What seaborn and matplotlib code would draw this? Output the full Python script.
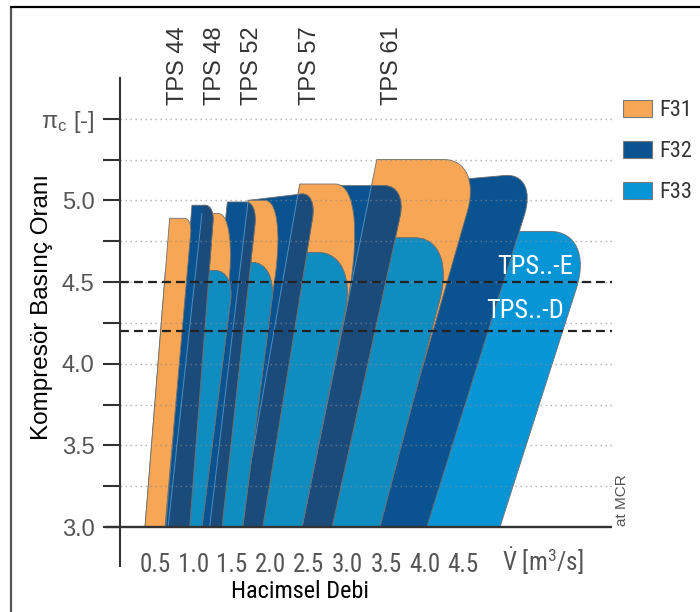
import numpy as np
import pandas as pd
import seaborn as sns
import matplotlib
matplotlib.use("Agg")
import matplotlib.pyplot as plt
from matplotlib.path import Path
from matplotlib.patches import PathPatch, Polygon, Patch
from matplotlib.lines import Line2D
from matplotlib import font_manager
from matplotlib.font_manager import FontProperties

# ---------------- data ----------------
tps_names = ["TPS 44", "TPS 48", "TPS 52", "TPS 57", "TPS 61"]
tps_label_x = [0.80, 1.28, 1.76, 2.51, 3.58]

# surge lines (left edge of the F31 areas): x at pi=3.0 and x at the F31 top
surge_bottom = [0.37, 0.67, 1.21, 1.60, 2.41]
surge_top = [0.69, 1.11, 1.71, 2.38, 3.38]

# F31 areas
f31_top = [4.89, 4.92, 5.00, 5.10, 5.25]
f31_right_bottom = [0.63, 1.08, 1.60, 2.38, 3.38]
f31_right_top = [0.98, 1.57, 2.20, 3.33, 4.75]
f31_round_x = [0.10, 0.25, 0.27, 0.49, 0.50]
f31_round_y = [0.09, 0.47, 0.47, 0.81, 0.32]

# F32 areas
f32_left_bottom = [0.64, 0.99, 1.21, 1.60, 2.41]
f32_left_top = [0.98, 1.44, 1.71, 2.38, 3.31]
f32_top_left = [4.97, 4.99, 5.00, 5.09, 5.08]
f32_top_right = [4.97, 4.99, 5.05, 5.09, 5.17]
f32_right_bottom = [0.95, 1.37, 1.90, 2.80, 4.03]
f32_right_top = [1.27, 1.83, 2.60, 3.77, 5.47]
f32_round_x = [0.12, 0.15, 0.20, 0.29, 0.43]
f32_round_y = [0.10, 0.14, 0.16, 0.19, 0.26]

# F33 areas
f33_top = [4.57, 4.62, 4.68, 4.77, 4.81]
f33_right_bottom = [1.11, 1.64, 2.41, 3.42, 4.98]
f33_right_top = [1.53, 2.08, 3.12, 4.41, 6.21]
f33_round_x = [0.25, 0.32, 0.50, 0.53, 0.58]
f33_round_y = [0.18, 0.23, 0.35, 0.38, 0.35]

series_names = ["F31", "F32", "F33"]
x_ticks = [0.5, 1.0, 1.5, 2.0, 2.5, 3.0, 3.5, 4.0, 4.5]
y_major = [3.0, 3.5, 4.0, 4.5, 5.0, 5.5]
y_major_labels = ["3.0", "3.5", "4.0", "4.5", "5.0", "π$_{\\mathregular{c}}$ [-]"]
y_minor = [3.25, 3.75, 4.25, 4.75, 5.25]
grid_levels = [3.25, 3.5, 3.75, 4.0, 4.25, 4.5, 4.75, 5.0, 5.25, 5.5]
limit_levels = [4.5, 4.2]
limit_names = ["TPS..-E", "TPS..-D"]

# ---------------- style ----------------
C_F31 = "#f7a655"
C_F32 = "#0b5290"
C_F32_DARK = "#1b4b7a"
C_F33 = "#0895d6"
C_F33_DARK = "#108dc0"
EDGE = "#6f6f6f"

sns.set_theme(style="white")
names = {f.name for f in font_manager.fontManager.ttflist}
base = "Liberation Sans" if "Liberation Sans" in names else "DejaVu Sans"
plt.rcParams["font.family"] = [base, "DejaVu Sans"]
plt.rcParams["mathtext.fontset"] = "custom"
plt.rcParams["mathtext.rm"] = base
plt.rcParams["mathtext.it"] = base + ":italic"

# look for a condensed / narrow sans face
narrow_file = None
prefs = ["Liberation Sans Narrow", "Roboto Condensed", "Open Sans Condensed",
         "Noto Sans Condensed", "DejaVu Sans"]
cands = []
for f in font_manager.fontManager.ttflist:
    is_narrow = ("Narrow" in f.name or "Condensed" in f.name
                 or str(f.stretch) in ("condensed", "semi-condensed", "575", "500"))
    if not is_narrow:
        continue
    if f.style != "normal" or f.weight not in (400, "normal", "regular"):
        continue
    rank = prefs.index(f.name) if f.name in prefs else len(prefs)
    cands.append((rank, f.fname))
if cands:
    cands.sort()
    narrow_file = cands[0][1]


def nprop(size_narrow, size_regular):
    if narrow_file:
        return FontProperties(fname=narrow_file, size=size_narrow)
    return FontProperties(family=base, size=size_regular)


fig = plt.figure(figsize=(7, 6.12), dpi=100)
ax = fig.add_axes([120 / 700, 85 / 612, 492 / 700, 449 / 612])
ax.set_xlim(0.0455, 6.435)
ax.set_ylim(3.0, 5.749)
ax.set_facecolor("white")

Y0 = 3.0


def line_x(xb, xt, ytop, y):
    return xb + (xt - xb) * (y - Y0) / (ytop - Y0)


def area_path(xl0, xl1, yl, yr, xr1, xr0, rx, ry, k=0.58):
    t = (xr1 - rx - xl1) / (xr1 - xl1)
    p1 = (xr1 - rx, yl + (yr - yl) * t)
    c = (xr1, yr)
    frac = ry / (yr - Y0)
    p2 = (xr1 + (xr0 - xr1) * frac, yr - ry)
    c1 = (p1[0] + k * (c[0] - p1[0]), p1[1] + k * (c[1] - p1[1]))
    c2 = (p2[0] + k * (c[0] - p2[0]), p2[1] + k * (c[1] - p2[1]))
    verts = [(xl0, Y0), (xl1, yl), p1, c1, c2, p2, (xr0, Y0), (xl0, Y0)]
    codes = [Path.MOVETO, Path.LINETO, Path.LINETO, Path.CURVE4, Path.CURVE4,
             Path.CURVE4, Path.LINETO, Path.CLOSEPOLY]
    return Path(verts, codes)


def halfplane_right(i):
    xa = line_x(surge_bottom[i], surge_top[i], f31_top[i], 2.0)
    xb = line_x(surge_bottom[i], surge_top[i], f31_top[i], 7.0)
    return Polygon([(xa, 2.0), (xb, 7.0), (30, 7.0), (30, 2.0)], closed=True,
                   transform=ax.transData)


z = 2
n = len(tps_names)
for i in reversed(range(n)):
    # F33
    sx33 = line_x(surge_bottom[i], surge_top[i], f31_top[i], f33_top[i])
    p33 = area_path(surge_bottom[i], sx33, f33_top[i], f33_top[i], f33_right_top[i],
                    f33_right_bottom[i], f33_round_x[i], f33_round_y[i])
    ax.add_patch(PathPatch(p33, facecolor=C_F33, edgecolor=EDGE, lw=0.6, zorder=z))
    z += 1
    if i < n - 1:
        dark = PathPatch(p33, facecolor=C_F33_DARK, edgecolor=EDGE, lw=0.6, zorder=z)
        ax.add_patch(dark)
        dark.set_clip_path(halfplane_right(i + 1))
        z += 1
    # F32
    p32 = area_path(f32_left_bottom[i], f32_left_top[i], f32_top_left[i], f32_top_right[i],
                    f32_right_top[i], f32_right_bottom[i], f32_round_x[i], f32_round_y[i])
    patch32 = PathPatch(p32, facecolor=C_F32, edgecolor=EDGE, lw=0.6, zorder=z)
    ax.add_patch(patch32)
    z += 1
    if i < n - 1:
        dark = PathPatch(p32, facecolor=C_F32_DARK, edgecolor=EDGE, lw=0.6, zorder=z)
        ax.add_patch(dark)
        dark.set_clip_path(halfplane_right(i + 1))
        z += 1
        ys = np.array([Y0, f31_top[i + 1]])
        xs = line_x(surge_bottom[i + 1], surge_top[i + 1], f31_top[i + 1], ys)
        ln, = ax.plot(xs, ys, color="#5b9fd0", lw=0.7, alpha=0.8, zorder=z)
        ln.set_clip_path(patch32)
        z += 1
    # F31
    p31 = area_path(surge_bottom[i], surge_top[i], f31_top[i], f31_top[i], f31_right_top[i],
                    f31_right_bottom[i], f31_round_x[i], f31_round_y[i])
    ax.add_patch(PathPatch(p31, facecolor=C_F31, edgecolor=EDGE, lw=0.6, zorder=z))
    z += 1

# grid (dotted) and limit lines
ax.hlines(grid_levels, 0.0455, 6.435, colors="#8a8a8a", linestyles=(0, (1, 2.6)),
          lw=1.0, alpha=0.7, zorder=z)
z += 1
ax.hlines(limit_levels, 0.0455, 6.435, colors="#222222", linestyles=(0, (4.0, 2.3)),
          lw=1.6, zorder=z)
z += 1

# white labels of the limit lines
ax.text(5.44, 4.59, limit_names[0], color="white", fontproperties=nprop(19, 16.5),
        ha="center", va="center", zorder=z)
ax.text(5.31, 4.32, limit_names[1], color="white", fontproperties=nprop(19, 16.5),
        ha="center", va="center", zorder=z)

# axes lines
for s in ["top", "right", "bottom"]:
    ax.spines[s].set_visible(False)
ax.spines["left"].set_color("#333333")
ax.spines["left"].set_linewidth(1.5)
ax.spines["left"].set_zorder(z + 2)
ax.plot([-0.149, 6.435], [Y0, Y0], color="#333333", lw=1.7, clip_on=False, zorder=z + 3,
        solid_capstyle="butt")
ax.plot([0.0455, 0.0455], [Y0, 2.755], color="#333333", lw=1.5, clip_on=False, zorder=z + 3,
        solid_capstyle="butt")

# ticks
ax.set_yticks(y_major)
ax.set_yticklabels(y_major_labels)
ax.set_yticks(y_minor, minor=True)
ax.tick_params(axis="y", which="both", length=12.2, width=1.5, color="#333333",
               direction="out", pad=6, labelsize=17, labelcolor="#555555", left=True)
ax.set_xticks(x_ticks)
ax.set_xticklabels([f"{v:.1f}" for v in x_ticks])
ax.tick_params(axis="x", length=0, pad=19, labelcolor="#555555")
for lab in ax.get_xticklabels():
    lab.set_fontproperties(nprop(18, 14.5))
ax.grid(False)

ax.annotate("$\\dot{\\mathregular{V}}$ [m$^{\\mathregular{3}}$/s]", xy=(5.54, Y0),
            xytext=(0, -24.5), textcoords="offset points", ha="center", va="center",
            fontproperties=nprop(18, 15), color="#555555", annotation_clip=False)
ax.text(6.565, Y0 + 0.005, "at MCR", rotation=90, ha="center", va="bottom",
        fontsize=11, color="#555555")

# TPS size labels
for name, xpos in zip(tps_names, tps_label_x):
    ax.text(xpos, 5.584, name, rotation=90, ha="center", va="bottom", fontsize=17,
            color="#333333", clip_on=False)

# axis titles
fig.text(42 / 700, 1 - 307 / 612, "Kompresör Basınç Oranı", rotation=90, ha="center",
         va="center", fontsize=17.5, color="black")
fig.text(300 / 700, 1 - 592 / 612, "Hacimsel Debi", ha="center", va="center",
         color="black", fontproperties=nprop(17.5, 15))

# legend
handles = [Patch(facecolor=c, edgecolor="#7a7a7a", lw=0.8, label=l)
           for c, l in zip([C_F31, C_F32, C_F33], series_names)]
lp = nprop(16, 15)
fig.legend(handles=handles, loc="upper left", bbox_to_anchor=(623 / 700, 1 - 100 / 612),
           frameon=False, borderpad=0, borderaxespad=0, handlelength=1.3,
           handleheight=0.82, handletextpad=0.34, labelspacing=0.88,
           prop=lp, labelcolor="#333333")

# outer frame of the picture
fig.add_artist(Line2D([11 / 700, 11 / 700], [0, 1 - 7 / 612], color="#555555", lw=1.6,
                      transform=fig.transFigure))
fig.add_artist(Line2D([11 / 700, 1], [1 - 7 / 612, 1 - 7 / 612], color="black", lw=1.6,
                      transform=fig.transFigure))

fig.savefig("out.png", dpi=100)
